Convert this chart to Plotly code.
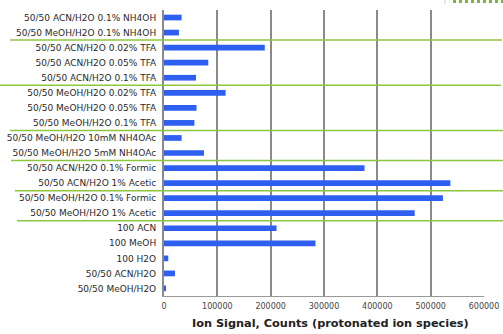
import plotly.graph_objects as go

categories = [
    "50/50 ACN/H2O 0.1% NH4OH",
    "50/50 MeOH/H2O 0.1% NH4OH",
    "50/50 ACN/H2O 0.02% TFA",
    "50/50 ACN/H2O 0.05% TFA",
    "50/50 ACN/H2O 0.1% TFA",
    "50/50 MeOH/H2O 0.02% TFA",
    "50/50 MeOH/H2O 0.05% TFA",
    "50/50 MeOH/H2O 0.1% TFA",
    "50/50 MeOH/H2O 10mM NH4OAc",
    "50/50 MeOH/H2O 5mM NH4OAc",
    "50/50 ACN/H2O 0.1% Formic",
    "50/50 ACN/H2O 1% Acetic",
    "50/50 MeOH/H2O 0.1% Formic",
    "50/50 MeOH/H2O 1% Acetic",
    "100 ACN",
    "100 MeOH",
    "100 H2O",
    "50/50 ACN/H2O",
    "50/50 MeOH/H2O",
]
values = [33000, 28000, 189000, 83000, 60000, 115500, 61000, 57000, 33000, 75000,
          376000, 537000, 523000, 470000, 211000, 284000, 8000, 20600, 2000]

x_ticks = [0, 100000, 200000, 300000, 400000, 500000, 600000]
x_title = "Ion Signal, Counts (protonated ion species)"

# group separators: (boundary position, left px, right px)
separators = [(1.5, 10, 502), (4.5, 0, 501), (7.5, 10, 503),
              (9.5, 11, 503), (11.5, 15, 503), (13.5, 17, 503)]

W, H = 503, 334
L, R, T, B = 164, 19, 10, 38
pw = W - L - R
ph = H - T - B

fig = go.Figure(go.Bar(
    x=values, y=categories, orientation="h",
    marker=dict(color="#2f5ff0", line=dict(width=0)),
    width=0.38,
))

shapes = []
for ypos, x0, x1 in separators:
    shapes.append(dict(type="line", xref="paper", yref="y",
                       x0=(x0 - L) / pw, x1=(x1 - L) / pw, y0=ypos, y1=ypos,
                       line=dict(color="#8cc63e", width=1.5), layer="above"))
# small decoration at top right
shapes.append(dict(type="line", xref="paper", yref="paper",
                   x0=(453 - L) / pw, x1=(503 - L) / pw,
                   y0=(H - B - 1.5) / ph, y1=(H - B - 1.5) / ph,
                   line=dict(color="#7cb342", width=3, dash="dot")))
shapes.append(dict(type="line", xref="paper", yref="paper",
                   x0=(445 - L) / pw, x1=(445 - L) / pw,
                   y0=(H - B - 0) / ph, y1=(H - B - 4) / ph,
                   line=dict(color="#cccccc", width=1)))

fig.update_layout(
    width=W, height=H,
    margin=dict(l=L, r=R, t=T, b=B, pad=0, autoexpand=False),
    paper_bgcolor="white", plot_bgcolor="white",
    showlegend=False,
    font=dict(family="DejaVu Sans", color="#2a2a2a"),
    shapes=shapes,
    annotations=[dict(
        text="<b>" + x_title + "</b>", xref="paper", yref="paper",
        x=(330 - L) / pw, y=(H - B - 323) / ph, xanchor="center", yanchor="middle",
        showarrow=False, font=dict(size=11.3, color="#222222", family="DejaVu Sans"),
    )],
    xaxis=dict(
        range=[0, 600000], tickvals=x_ticks, ticktext=[str(v) for v in x_ticks],
        showgrid=True, gridcolor="#8a8a8a", gridwidth=2,
        showline=True, linecolor="#9a9a9a", linewidth=1,
        zeroline=False, ticks="", tickfont=dict(size=8, color="#444444"),
        ticklabelstandoff=2,
        automargin=False,
    ),
    yaxis=dict(
        categoryorder="array", categoryarray=categories,
        range=[18.5, -0.5], showgrid=False,
        showline=True, linecolor="#8a8a8a", linewidth=2,
        automargin=False,
        ticks="", ticklabelstandoff=4, tickfont=dict(size=9, color="#2a2a2a"),
    ),
)

fig.write_html(
    "out.html",
    config={"displayModeBar": False},
    post_script="document.body.style.margin='0';document.body.style.overflow='hidden';",
)
